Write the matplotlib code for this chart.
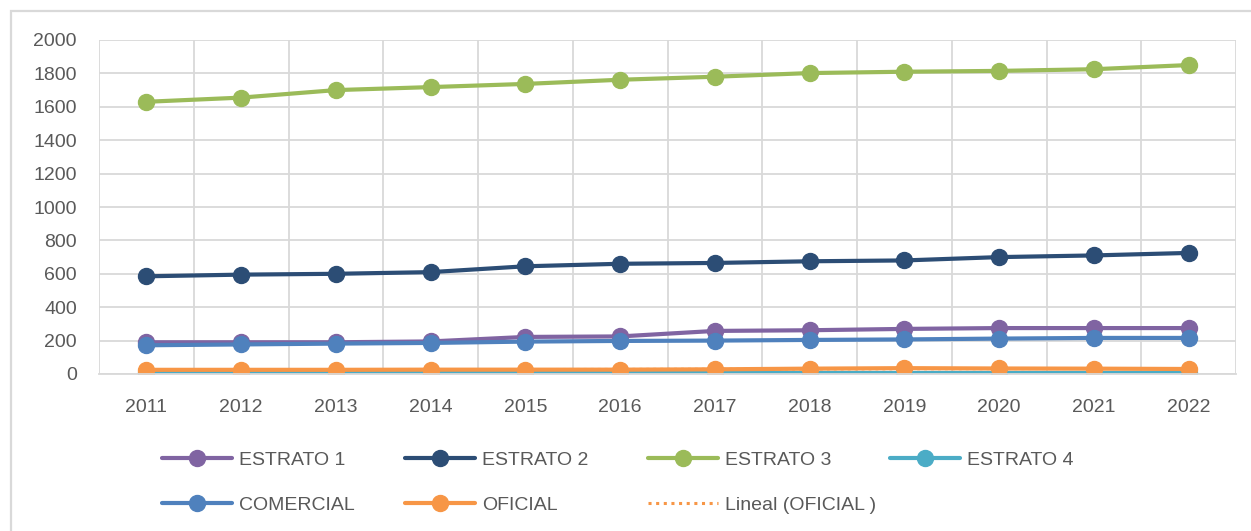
import numpy as np
import matplotlib.pyplot as plt
from matplotlib.patches import Rectangle
from matplotlib.lines import Line2D

# DATA #
years = [2011, 2012, 2013, 2014, 2015, 2016, 2017, 2018, 2019, 2020, 2021, 2022]
estrato_1 = [190, 190, 190, 195, 222, 225, 258, 262, 270, 275, 275, 275]
estrato_2 = [585, 595, 600, 610, 645, 660, 665, 675, 680, 700, 710, 725]
estrato_3 = [1630, 1655, 1700, 1718, 1737, 1762, 1780, 1802, 1810, 1815, 1825, 1850]
estrato_4 = [8, 8, 8, 8, 8, 8, 8, 8, 8, 8, 8, 8]
comercial = [172, 177, 182, 186, 194, 198, 200, 204, 207, 212, 216, 216]
oficial = [25, 25, 25, 26, 26, 26, 28, 32, 35, 33, 32, 30]
yticks = list(range(0, 2001, 200))

series = [
    ("ESTRATO 1", estrato_1, "#8064A2"),
    ("ESTRATO 2", estrato_2, "#2C4D75"),
    ("ESTRATO 3", estrato_3, "#9BBB59"),
    ("ESTRATO 4", estrato_4, "#4BACC6"),
    ("COMERCIAL", comercial, "#4F81BD"),
    ("OFICIAL", oficial, "#F79646"),
]

TEXT = "#595959"
GRID = "#D9D9D9"
FS = 14
W, H = 1251, 531


def main():
    plt.rcParams['font.family'] = ['Liberation Sans', 'DejaVu Sans']
    fig = plt.figure(figsize=(W / 100, H / 100), dpi=100)
    ax = fig.add_axes([99 / W, 1 - 374 / H, (1236 - 99) / W, 334 / H])

    x = np.arange(len(years))
    handles = {}
    for name, vals, col in series:
        h, = ax.plot(x, vals, color=col, lw=3, marker='o', ms=11.5,
                     solid_capstyle='round', label=name)
        handles[name] = h

    # linear trend of OFICIAL
    trend_ls = (0, (1, 1.5))
    k, b = np.polyfit(x, oficial, 1)
    ax.plot(x, k * x + b, color="#F79646", lw=2, ls=trend_ls)
    handles["Lineal (OFICIAL )"] = Line2D([], [], color="#F79646", lw=2.2,
                                          ls=trend_ls)

    ax.set_xlim(-0.5, len(years) - 0.5)
    ax.set_ylim(0, 2000)
    ax.set_yticks(yticks)
    ax.set_xticks(x)
    ax.set_xticklabels([str(y) for y in years])
    ax.set_xticks(np.arange(-0.5, len(years), 1), minor=True)
    ax.tick_params(axis='both', which='both', length=0, labelsize=FS,
                   colors=TEXT)
    ax.tick_params(axis='x', pad=18)
    ax.tick_params(axis='y', pad=16)
    ax.grid(axis='y', which='major', color=GRID, lw=1.3)
    ax.grid(axis='x', which='minor', color=GRID, lw=1.3)
    ax.set_axisbelow(True)
    for s in ['top', 'right', 'left']:
        ax.spines[s].set_visible(False)
    ax.spines['bottom'].set_color(GRID)
    ax.spines['bottom'].set_linewidth(1.3)

    # legend laid out in a fixed grid like the spreadsheet legend
    order = ["ESTRATO 1", "ESTRATO 2", "ESTRATO 3", "ESTRATO 4",
             "COMERCIAL", "OFICIAL", "Lineal (OFICIAL )"]
    col_x = [162, 405, 648, 890]
    row_y = [460, 505]
    for i, name in enumerate(order):
        r, c = divmod(i, 4)
        fig.legend([handles[name]], [name], loc='center left',
                   bbox_to_anchor=(col_x[c] / W, 1 - row_y[r] / H),
                   frameon=False, fontsize=FS, labelcolor=TEXT,
                   handlelength=3.6, handletextpad=0.35, borderpad=0,
                   borderaxespad=0)

    # chart frame: only top and left edges fall inside the picture
    fig.patches.append(Rectangle((11 / W, -0.5), 2, 1.5 - 11 / H,
                                 transform=fig.transFigure, fill=False,
                                 edgecolor=GRID, lw=1.6))

    fig.savefig("out.png", dpi=100)


if __name__ == "__main__":
    main()
